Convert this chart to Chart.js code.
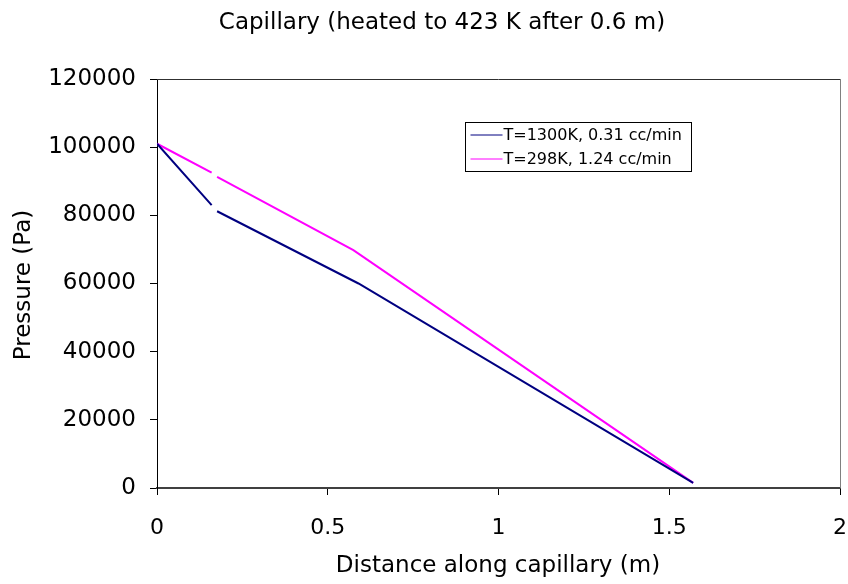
<!DOCTYPE html>
<html>
<head>
<meta charset="utf-8">
<script src="https://cdn.jsdelivr.net/npm/chart.js@4.4.0/dist/chart.umd.min.js"></script>
<style>
html,body{margin:0;padding:0;background:#fff;}
#wrap{width:848px;height:584px;position:relative;}
</style>
</head>
<body>
<div id="wrap"><canvas id="c" width="848" height="584"></canvas></div>
<script>
const chartTitle = "Capillary (heated to 423 K after 0.6 m)";
const xAxisTitle = "Distance along capillary (m)";
const yAxisTitle = "Pressure (Pa)";
const seriesNames = ["T=1300K, 0.31 cc/min", "T=298K, 1.24 cc/min"];
// null = gap in the line
const hotX = [0, 0.16, null, 0.176, 0.59, 1.57];
const hotY = [101000, 83000, null, 81200, 60000, 1500];
const coldX = [0, 0.16, null, 0.176, 0.575, 1.57];
const coldY = [101000, 92500, null, 91300, 69800, 1500];
const xTicks = [0, 0.5, 1, 1.5, 2];
const yTicks = [0, 20000, 40000, 60000, 80000, 100000, 120000];

function pts(xs, ys){ return xs.map((x,i)=> x===null ? {x:NaN,y:null} : {x:x,y:ys[i]}); }

const FONT = "'DejaVu Sans', Verdana, sans-serif";

const extras = {
  id:'extras',
  afterDraw(chart){
    const ctx = chart.ctx, a = chart.chartArea;
    ctx.save();
    // plot frame top/right
    ctx.lineWidth = 1;
    ctx.strokeStyle = '#303030';
    ctx.beginPath(); ctx.moveTo(a.left, a.top+0.5); ctx.lineTo(a.right, a.top+0.5); ctx.stroke();
    ctx.strokeStyle = '#808080';
    ctx.beginPath(); ctx.moveTo(a.right+0.5, a.top); ctx.lineTo(a.right+0.5, a.bottom); ctx.stroke();
    // titles
    ctx.fillStyle = '#000';
    ctx.textAlign = 'center'; ctx.textBaseline = 'middle';
    ctx.font = "23px " + FONT;
    ctx.fillText(chartTitle, 442, 23);
    ctx.fillText(xAxisTitle, 498, 566);
    ctx.save();
    ctx.translate(24, 285); ctx.rotate(-Math.PI/2);
    ctx.fillText(yAxisTitle, 0, 0);
    ctx.restore();
    // legend
    const lx = 465.5, ly = 122.5, lw = 226, lh = 49;
    ctx.fillStyle = '#fff'; ctx.fillRect(lx, ly, lw, lh);
    ctx.strokeStyle = '#000'; ctx.lineWidth = 1; ctx.strokeRect(lx, ly, lw, lh);
    ctx.font = "16px " + FONT; ctx.textAlign = 'left';
    chart.data.datasets.forEach((ds,i)=>{
      const yy = ly + 12 + i*24;
      ctx.strokeStyle = ds.borderColor; ctx.lineWidth = 1;
      ctx.beginPath(); ctx.moveTo(lx+5, yy+0.5); ctx.lineTo(lx+37, yy+0.5); ctx.stroke();
      ctx.fillStyle = '#000'; ctx.fillText(ds.label, lx+38, yy+1);
    });
    ctx.restore();
  }
};

new Chart(document.getElementById('c'), {
  type: 'line',
  data: {
    datasets: [
      {label: seriesNames[0], data: pts(hotX, hotY), borderColor:'#000080', borderWidth:2, pointRadius:0, spanGaps:false, tension:0},
      {label: seriesNames[1], data: pts(coldX, coldY), borderColor:'#FF00FF', borderWidth:2, pointRadius:0, spanGaps:false, tension:0}
    ]
  },
  options: {
    responsive:false, animation:false, events:[],
    layout:{padding:{left:0, right:8, top:79, bottom:0}},
    plugins:{legend:{display:false}, title:{display:false}, tooltip:{enabled:false}},
    scales:{
      x:{type:'linear', min:0, max:2,
        afterBuildTicks(s){ s.ticks = xTicks.map(v=>({value:v})); },
        afterFit(s){ s.height = 96; s.paddingLeft = 0; s.paddingRight = 0; },
        grid:{drawOnChartArea:false, drawTicks:true, tickLength:7, color:'#000'},
        border:{display:true, color:'#404040', width:2},
        ticks:{color:'#000', font:{family:FONT, size:22}, padding:20, maxRotation:0, callback:v=>String(v)},
        title:{display:false}
      },
      y:{type:'linear', min:0, max:120000,
        afterBuildTicks(s){ s.ticks = yTicks.map(v=>({value:v})); },
        afterFit(s){ s.width = 157; s.paddingTop = 0; s.paddingBottom = 0; },
        grid:{drawOnChartArea:false, drawTicks:true, tickLength:7, color:'#000'},
        border:{display:true, color:'#000', width:1},
        ticks:{color:'#000', font:{family:FONT, size:23}, padding:14, callback:v=>String(v)},
        title:{display:false}
      }
    }
  },
  plugins:[extras]
});
</script>
</body>
</html>
